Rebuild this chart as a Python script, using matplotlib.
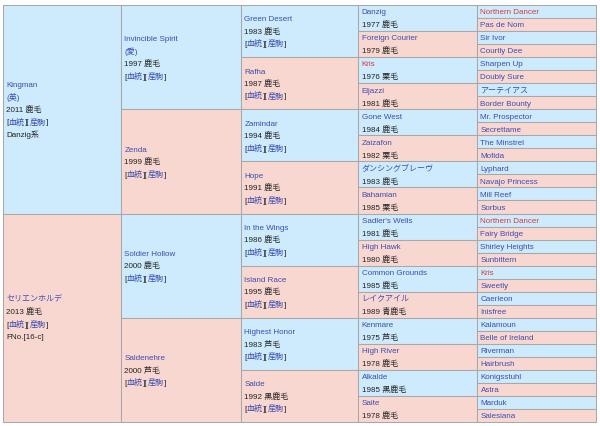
import matplotlib.pyplot as plt
from matplotlib.patches import Rectangle

plt.rcParams['font.family'] = ['Liberation Sans', 'Noto Sans CJK JP', 'DejaVu Sans']

# pedigree, generation by generation (sire first, then dam, top to bottom)
gen1_names = ["Kingman", "セリエンホルデ"]
gen1_origin = ["(英)", ""]
gen1_info = ["2011 鹿毛", "2013 鹿毛"]
gen1_extra = ["Danzig系", "FNo.[16-c]"]

gen2_names = ["Invincible Spirit", "Zenda", "Soldier Hollow", "Saldenehre"]
gen2_origin = ["(愛)", "", "", ""]
gen2_info = ["1997 鹿毛", "1999 鹿毛", "2000 鹿毛", "2000 芦毛"]

gen3_names = ["Green Desert", "Rafha", "Zamindar", "Hope",
              "In the Wings", "Island Race", "Highest Honor", "Salde"]
gen3_info = ["1983 鹿毛", "1987 鹿毛", "1994 鹿毛", "1991 鹿毛",
             "1986 鹿毛", "1995 鹿毛", "1983 芦毛", "1992 黒鹿毛"]

gen4_names = ["Danzig", "Foreign Courier", "Kris", "Eljazzi",
              "Gone West", "Zaizafon", "ダンシングブレーヴ", "Bahamian",
              "Sadler's Wells", "High Hawk", "Common Grounds", "レイクアイル",
              "Kenmare", "High River", "Alkalde", "Saite"]
gen4_info = ["1977 鹿毛", "1979 鹿毛", "1976 栗毛", "1981 鹿毛",
             "1984 鹿毛", "1982 栗毛", "1983 鹿毛", "1985 栗毛",
             "1981 鹿毛", "1980 鹿毛", "1985 鹿毛", "1989 青鹿毛",
             "1975 芦毛", "1978 鹿毛", "1985 黒鹿毛", "1978 鹿毛"]

gen5_names = ["Northern Dancer", "Pas de Nom", "Sir Ivor", "Courtly Dee",
              "Sharpen Up", "Doubly Sure", "アーテイアス", "Border Bounty",
              "Mr. Prospector", "Secrettame", "The Minstrel", "Mofida",
              "Lyphard", "Navajo Princess", "Mill Reef", "Sorbus",
              "Northern Dancer", "Fairy Bridge", "Shirley Heights", "Sunbittern",
              "Kris", "Sweetly", "Caerleon", "Inisfree",
              "Kalamoun", "Belle of Ireland", "Riverman", "Hairbrush",
              "Konigsstuhl", "Astra", "Marduk", "Salesiana"]

# inbred ancestors shown in red
highlight = ["Northern Dancer", "Kris"]

blue_bg = '#cdebfd'
pink_bg = '#f9d7d1'
line_col = '#a8a8a8'
link_col = '#3a4db0'
red_col = '#d63a3a'
text_col = '#222222'

W, H = 600, 426
col_x = [3, 121, 241, 358, 477, 596]
top, bottom = 5, 422
fs = 5.8
lh = 12.4

fig = plt.figure(figsize=(6, 4.26), dpi=100)
ax = fig.add_axes([0, 0, 1, 1])
ax.set_xlim(0, W)
ax.set_ylim(H, 0)
ax.axis('off')
renderer = fig.canvas.get_renderer()


def put(x, y, pieces):
    # lay pieces of coloured text out along one baseline
    for s, c in pieces:
        t = ax.text(x, y + 2.8, s, color=c, fontsize=fs, va='baseline', ha='left')
        bb = t.get_window_extent(renderer)
        x = ax.transData.inverted().transform((bb.x1, bb.y0))[0]


links = [("[", text_col), ("血統", link_col), ("][", text_col), ("産駒", link_col), ("]", text_col)]


def name_col(n):
    return red_col if n in highlight else link_col


def cell_lines(g, i):
    if g == 0:
        lines = [[(gen1_names[i], link_col)]]
        if gen1_origin[i]:
            lines.append([(gen1_origin[i], link_col)])
        lines += [[(gen1_info[i], text_col)], links, [(gen1_extra[i], text_col)]]
    elif g == 1:
        lines = [[(gen2_names[i], link_col)]]
        if gen2_origin[i]:
            lines.append([(gen2_origin[i], link_col)])
        lines += [[(gen2_info[i], text_col)], links]
    elif g == 2:
        lines = [[(gen3_names[i], name_col(gen3_names[i]))],
                 [(gen3_info[i], text_col)], links]
    elif g == 3:
        lines = [[(gen4_names[i], name_col(gen4_names[i]))],
                 [(gen4_info[i], text_col)]]
    else:
        lines = [[(gen5_names[i], name_col(gen5_names[i]))]]
    return lines


for g in range(5):
    n = 2 ** (g + 1)
    rh = (bottom - top) / n
    x0, x1 = col_x[g], col_x[g + 1]
    for i in range(n):
        y0 = top + i * rh
        ax.add_patch(Rectangle((x0, y0), x1 - x0, rh,
                               facecolor=blue_bg if i % 2 == 0 else pink_bg,
                               edgecolor=line_col, linewidth=0.75))
        lines = cell_lines(g, i)
        sp = rh / 2 if g == 3 else lh
        cy = y0 + rh / 2
        for k, pieces in enumerate(lines):
            put(x0 + 3.5, cy + (k - (len(lines) - 1) / 2) * sp, pieces)

fig.savefig('out.png', dpi=100)
